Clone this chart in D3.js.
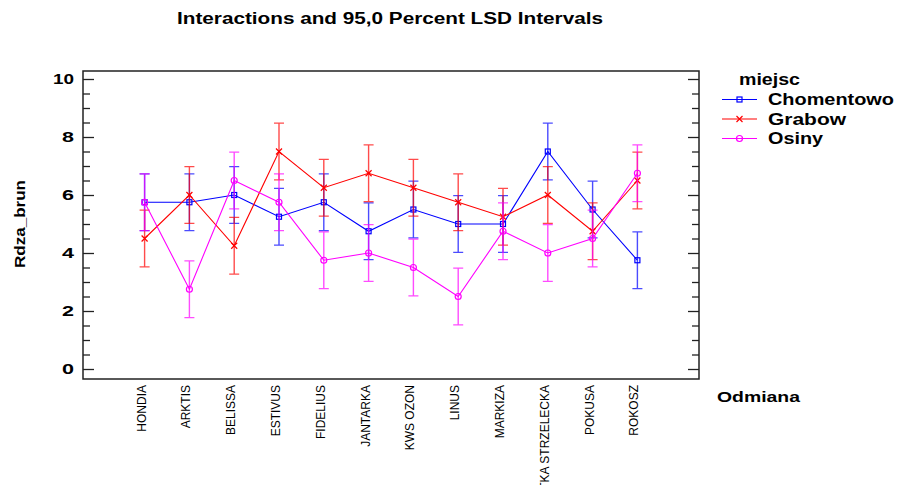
<!DOCTYPE html>
<html>
<head>
<meta charset="utf-8">
<script src="https://cdn.jsdelivr.net/npm/d3@7"></script>
<style>
  body { margin: 0; background: #fff; }
  text { font-family: "Liberation Sans", Arial, sans-serif; }
</style>
</head>
<body>
<div id="chart"></div>
<script>
var svgWidth = 901;
var svgHeight = 485;

var margin = { top: 71, right: 202, bottom: 106, left: 83 };
var width = svgWidth - margin.left - margin.right;
var height = svgHeight - margin.top - margin.bottom;

// data
var odmiany = ["HONDIA", "ARKTIS", "BELISSA", "ESTIVUS", "FIDELIUS", "JANTARKA",
  "KWS OZON", "LINUS", "MARKIZA", "OSTKA STRZELECKA", "POKUSA", "ROKOSZ"];
var chomentowo = [5.75, 5.75, 6.0, 5.25, 5.75, 4.75, 5.5, 5.0, 5.0, 7.5, 5.5, 3.75];
var grabow = [4.5, 6.0, 4.25, 7.5, 6.25, 6.75, 6.25, 5.75, 5.25, 6.0, 4.75, 6.5];
var osiny = [5.75, 2.75, 6.5, 5.75, 3.75, 4.0, 3.5, 2.5, 4.75, 4.0, 4.5, 6.75];
var lsdHalf = 0.98;
var yTicks = [0, 2, 4, 6, 8, 10];

var series = [
  { name: "Chomentowo", values: chomentowo, color: "#0000ff", marker: "square" },
  { name: "Grabow", values: grabow, color: "#ff0000", marker: "cross" },
  { name: "Osiny", values: osiny, color: "#ff00ff", marker: "circle" }
];

var svg = d3.select("#chart").append("svg")
  .attr("width", svgWidth)
  .attr("height", svgHeight);

var chartGroup = svg.append("g")
  .attr("transform", `translate(${margin.left}, ${margin.top})`);

var xScale = d3.scalePoint()
  .domain(odmiany)
  .range([0, width])
  .padding(1.375);

var yScale = d3.scaleLinear()
  .domain([0, 10])
  .range([height - 10, 8]);

// stretch text to the width seen in the picture
function stretch(sel, w) {
  sel.attr("textLength", w).attr("lengthAdjust", "spacingAndGlyphs");
}

// minor ticks every 0.5
var minor = d3.range(0, 10.01, 0.5).filter(v => v % 2 !== 0);

var leftAxis = d3.axisLeft(yScale).tickValues(yTicks).tickSize(-11).tickPadding(9);
var leftMinor = d3.axisLeft(yScale).tickValues(minor).tickSize(-7).tickFormat("");
var rightAxis = d3.axisRight(yScale).tickValues(yTicks).tickSize(-11).tickFormat("");
var rightMinor = d3.axisRight(yScale).tickValues(minor).tickSize(-7).tickFormat("");

function styleAxis(g) {
  g.select(".domain").remove();
  g.selectAll("line").attr("stroke", "#222").attr("stroke-width", 1.3);
}

var ly = chartGroup.append("g").call(leftAxis).call(styleAxis);
ly.selectAll("text")
  .attr("font-size", 14)
  .attr("font-weight", "bold")
  .attr("fill", "#000")
  .each(function (d) { stretch(d3.select(this), d >= 10 ? 21 : 12); });
chartGroup.append("g").call(leftMinor).call(styleAxis);
chartGroup.append("g").attr("transform", `translate(${width},0)`).call(rightAxis).call(styleAxis);
chartGroup.append("g").attr("transform", `translate(${width},0)`).call(rightMinor).call(styleAxis);

// frame
chartGroup.append("rect")
  .attr("width", width)
  .attr("height", height)
  .attr("fill", "none")
  .attr("stroke", "#222")
  .attr("stroke-width", 1.5);

// category labels
chartGroup.append("g").selectAll("text")
  .data(odmiany)
  .enter()
  .append("text")
  .attr("transform", d => `translate(${xScale(d) + 1}, ${height + 6}) rotate(-90)`)
  .attr("text-anchor", "end")
  .attr("font-size", 12)
  .attr("fill", "#000")
  .text(d => d);

var line = d3.line()
  .x((d, i) => xScale(odmiany[i]))
  .y(d => yScale(d));

function drawMarker(g, type, x, y, color) {
  if (type === "square") {
    g.append("rect").attr("x", x - 2.5).attr("y", y - 2.5).attr("width", 5).attr("height", 5)
      .attr("fill", "none").attr("stroke", color).attr("stroke-width", 1.2);
  } else if (type === "cross") {
    g.append("path").attr("d", `M${x - 3},${y - 3}L${x + 3},${y + 3}M${x - 3},${y + 3}L${x + 3},${y - 3}`)
      .attr("stroke", color).attr("stroke-width", 1.2);
  } else {
    g.append("circle").attr("cx", x).attr("cy", y).attr("r", 3)
      .attr("fill", "none").attr("stroke", color).attr("stroke-width", 1.2);
  }
}

series.forEach(function (s) {
  var g = chartGroup.append("g");

  // LSD intervals
  var bars = g.append("g").attr("opacity", 0.7);
  s.values.forEach(function (v, i) {
    var x = xScale(odmiany[i]);
    var y0 = yScale(v - lsdHalf);
    var y1 = yScale(v + lsdHalf);
    bars.append("path")
      .attr("d", `M${x},${y0}L${x},${y1}M${x - 5},${y0}L${x + 5},${y0}M${x - 5},${y1}L${x + 5},${y1}`)
      .attr("stroke", s.color)
      .attr("stroke-width", 1.4)
      .attr("fill", "none");
  });

  g.append("path")
    .datum(s.values)
    .attr("d", line)
    .attr("fill", "none")
    .attr("stroke", s.color)
    .attr("stroke-width", 1.1);

  s.values.forEach(function (v, i) {
    drawMarker(g, s.marker, xScale(odmiany[i]), yScale(v), s.color);
  });
});

// title
svg.append("text")
  .attr("x", 390)
  .attr("y", 24)
  .attr("text-anchor", "middle")
  .attr("font-size", 16)
  .attr("font-weight", "bold")
  .text("Interactions and 95,0 Percent LSD Intervals")
  .call(stretch, 426);

// y axis label
svg.append("text")
  .attr("transform", "translate(25, 224) rotate(-90)")
  .attr("text-anchor", "middle")
  .attr("font-size", 15)
  .attr("font-weight", "bold")
  .text("Rdza_brun")
  .call(stretch, 88);

// x axis label
svg.append("text")
  .attr("x", 717)
  .attr("y", 402)
  .attr("font-size", 15)
  .attr("font-weight", "bold")
  .text("Odmiana")
  .call(stretch, 83);

// legend
svg.append("text")
  .attr("x", 739)
  .attr("y", 85)
  .attr("font-size", 16)
  .attr("font-weight", "bold")
  .text("miejsc")
  .call(stretch, 61);

var legendY = [99.5, 119, 138.5];
var legendW = [126, 78, 55];
series.forEach(function (s, i) {
  var lg = svg.append("g");
  lg.append("line")
    .attr("x1", 722).attr("x2", 757)
    .attr("y1", legendY[i]).attr("y2", legendY[i])
    .attr("stroke", s.color)
    .attr("stroke-width", 1.1);
  drawMarker(lg, s.marker, 739.5, legendY[i], s.color);
  lg.append("text")
    .attr("x", 768)
    .attr("y", legendY[i] + 5.5)
    .attr("font-size", 16)
    .attr("font-weight", "bold")
    .text(s.name)
    .call(stretch, legendW[i]);
});
</script>
</body>
</html>
